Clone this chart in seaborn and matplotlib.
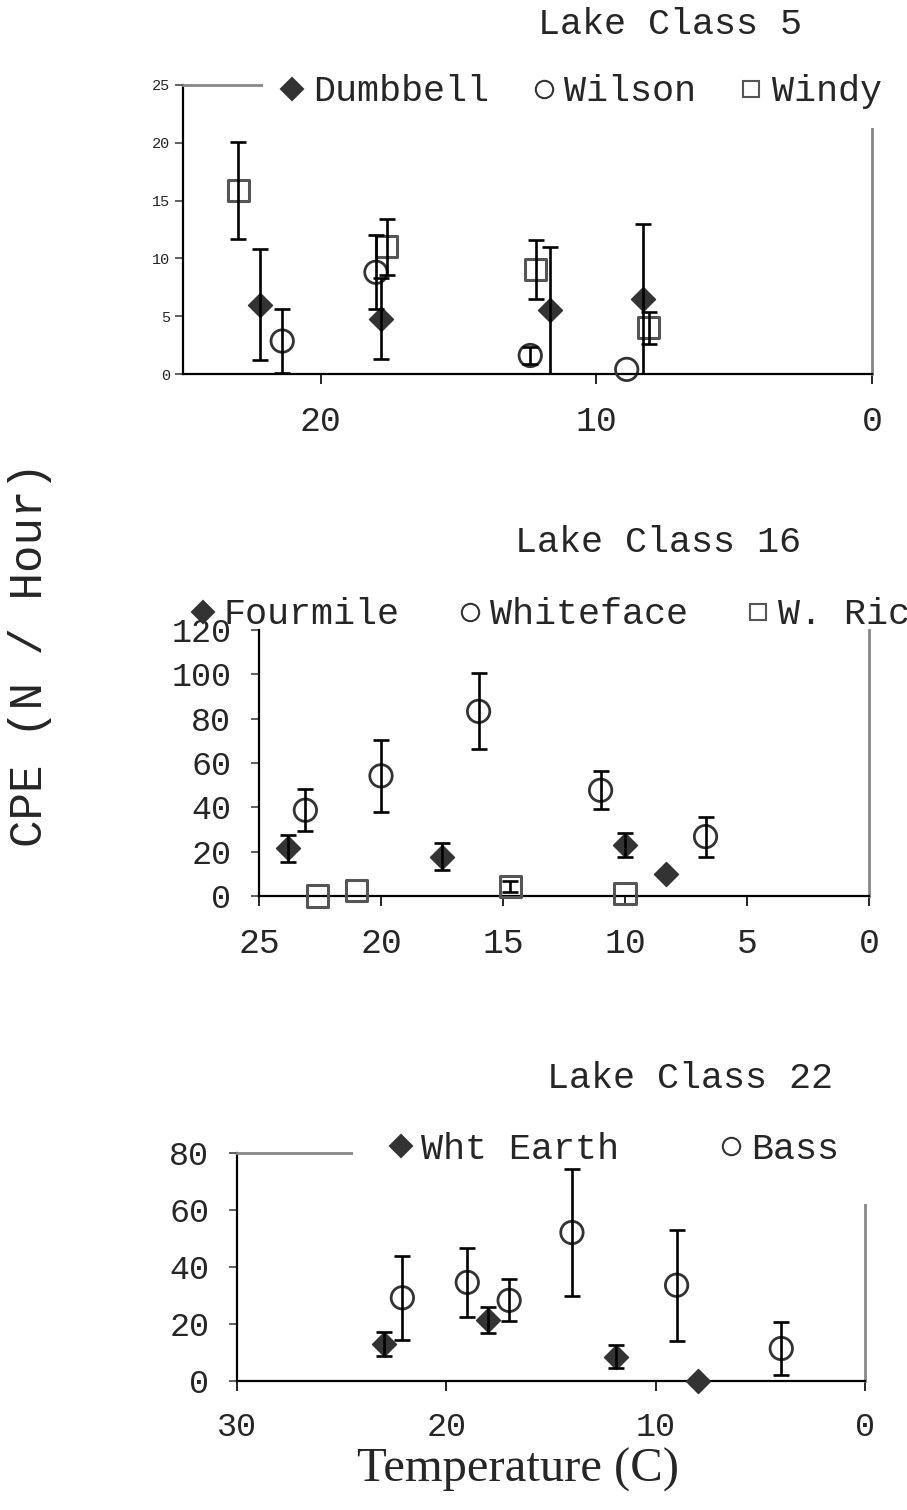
import numpy as np
import matplotlib
matplotlib.use("Agg")
import matplotlib.pyplot as plt
import seaborn as sns
from matplotlib.lines import Line2D

# ---- Lake Class 5 ----
dumbbell_t = [22.2, 17.8, 11.7, 8.3]
dumbbell_cpe = [6.0, 4.8, 5.5, 6.5]
dumbbell_err = [4.8, 3.5, 5.5, 6.5]
wilson_t = [21.4, 18.0, 12.4, 8.9]
wilson_cpe = [2.85, 8.8, 1.6, 0.4]
wilson_err = [2.8, 3.2, 0.75, 0.0]
windy_t = [23.0, 17.6, 12.2, 8.1]
windy_cpe = [15.9, 11.0, 9.05, 4.0]
windy_err = [4.2, 2.45, 2.55, 1.4]

# ---- Lake Class 16 ----
fourmile_t = [23.8, 17.5, 10.0, 8.3]
fourmile_cpe = [21.5, 17.8, 23.0, 9.8]
fourmile_err = [6.0, 6.0, 5.3, 0.0]
whiteface_t = [23.1, 20.0, 16.0, 11.0, 6.7]
whiteface_cpe = [38.7, 54.2, 83.3, 47.7, 26.8]
whiteface_err = [9.5, 16.4, 17.2, 8.5, 9.0]
wric_t = [22.6, 21.0, 14.7, 10.0]
wric_cpe = [0.0, 2.3, 4.2, 1.0]
wric_err = [0.0, 0.0, 2.4, 0.0]

# ---- Lake Class 22 ----
whtearth_t = [23.0, 18.0, 11.9, 8.0]
whtearth_cpe = [12.9, 21.4, 8.5, 0.0]
whtearth_err = [4.3, 4.7, 4.0, 0.0]
bass_t = [22.1, 19.0, 17.0, 14.0, 9.0, 4.0]
bass_cpe = [29.2, 34.6, 28.3, 52.1, 33.6, 11.4]
bass_err = [14.7, 12.2, 7.4, 22.2, 19.5, 9.3]

sns.set_style("white")
MONO = ["Liberation Mono", "DejaVu Sans Mono"]
plt.rcParams["font.family"] = MONO

W, H = 907, 1510
fig = plt.figure(figsize=(W / 100, H / 100), dpi=100)

DARK = "#333333"
SQ = "#555555"
STYLES = {
    "D": dict(marker="D", s=150, color=DARK, edgecolor=DARK, linewidth=1),
    "o": dict(marker="o", s=260, facecolor="none", edgecolor=DARK, linewidth=2),
    "s": dict(marker="s", s=230, facecolor="none", edgecolor=SQ, linewidth=2.2),
}
LEG_SIZE = {"D": 11.5, "o": 12.5, "s": 11.5}


def px_axes(l, r, t, b):
    return fig.add_axes([l / W, 1 - b / H, (r - l) / W, (b - t) / H])


def draw_series(ax, t, y, err, kind):
    t, y, err = np.array(t), np.array(y), np.array(err)
    m = err > 0
    if m.any():
        ax.errorbar(t[m], y[m], yerr=err[m], fmt="none", ecolor="black",
                    elinewidth=1.9, capsize=5.5, capthick=1.9, zorder=12)
    sns.scatterplot(x=t, y=y, ax=ax, zorder=11, clip_on=False, **STYLES[kind])


def style_axes(ax, xmax, xstep, ymax, ystep, xsize, ysize, ypad):
    ax.set_xlim(xmax, 0)
    ax.set_ylim(0, ymax)
    ax.set_xticks(np.arange(0, xmax + 0.1, xstep))
    ax.set_yticks(np.arange(0, ymax + 0.1, ystep))
    ax.set_xticklabels([f"{v:g}" for v in ax.get_xticks()])
    for s in ["left", "bottom"]:
        ax.spines[s].set_color("black")
        ax.spines[s].set_linewidth(1.6)
    for s in ["top", "right"]:
        ax.spines[s].set_color("#888888")
        ax.spines[s].set_linewidth(2)
    ax.tick_params(axis="x", direction="out", length=7, width=1.2,
                   labelsize=xsize, pad=15, bottom=True, color="black")
    ax.tick_params(axis="y", direction="out", length=6, width=1.2,
                   labelsize=ysize, pad=ypad, left=True, color="#444444")
    ax.set_xlabel("")
    ax.set_ylabel("")


def add_legend(ax, labels, kinds, ul, colspace, bpad=0.5, frame=True):
    handles = []
    for k in kinds:
        st = STYLES[k]
        fc = st.get("facecolor", st.get("color"))
        handles.append(Line2D([], [], linestyle="none", marker=k,
                              markersize=LEG_SIZE[k],
                              markerfacecolor=fc, markeredgecolor=st["edgecolor"],
                              markeredgewidth=1.5))
    leg = ax.legend(handles, labels, loc="upper left",
                    bbox_to_anchor=(ul[0] / W, 1 - ul[1] / H),
                    bbox_transform=fig.transFigure, ncol=len(labels),
                    frameon=frame, facecolor="white", edgecolor="none",
                    framealpha=1, fancybox=False, fontsize=26.5,
                    handlelength=0.6, handletextpad=0.25,
                    columnspacing=colspace, borderpad=bpad, borderaxespad=0)
    leg.set_zorder(10)
    return leg


# Panel 1
ax1 = px_axes(183, 872, 85, 374)
draw_series(ax1, dumbbell_t, dumbbell_cpe, dumbbell_err, "D")
draw_series(ax1, wilson_t, wilson_cpe, wilson_err, "o")
draw_series(ax1, windy_t, windy_cpe, windy_err, "s")
style_axes(ax1, 25, 10, 25, 5, 25, 11, 3)
ax1.set_xticks([0, 10, 20])
add_legend(ax1, ["Dumbbell", "Wilson", "Windy"], ["D", "o", "s"], (263, 56), 1.2)

# Panel 2
ax2 = px_axes(259, 869, 630, 896)
draw_series(ax2, fourmile_t, fourmile_cpe, fourmile_err, "D")
draw_series(ax2, whiteface_t, whiteface_cpe, whiteface_err, "o")
draw_series(ax2, wric_t, wric_cpe, wric_err, "s")
style_axes(ax2, 25, 5, 120, 20, 25, 24, 14)
ax2.spines["top"].set_visible(False)
add_legend(ax2, ["Fourmile", "Whiteface", "W. Ric"], ["D", "o", "s"], (174, 579), 1.6,
           frame=False)

# Panel 3
ax3 = px_axes(237, 865, 1153, 1381)
draw_series(ax3, whtearth_t, whtearth_cpe, whtearth_err, "D")
draw_series(ax3, bass_t, bass_cpe, bass_err, "o")
style_axes(ax3, 30, 10, 80, 20, 24, 24, 14)
add_legend(ax3, ["Wht Earth", "Bass"], ["D", "o"], (353, 1095), 2.75, bpad=1.0)

# Titles and axis labels
fig.text(670 / W, 1 - 25 / H, "Lake Class 5", ha="center", va="center", fontsize=26.5)
fig.text(658 / W, 1 - 542 / H, "Lake Class 16", ha="center", va="center", fontsize=26.5)
fig.text(690 / W, 1 - 1079 / H, "Lake Class 22", ha="center", va="center", fontsize=26.5)
fig.text(30 / W, 1 - 654 / H, "CPE (N / Hour)", rotation=90, ha="center",
         va="center", fontsize=33)
fig.text(518 / W, 1 - 1470 / H, "Temperature (C)", ha="center", va="center",
         fontsize=35, family=["Liberation Serif", "DejaVu Serif"])

fig.savefig("out.png", dpi=100, facecolor="white")
